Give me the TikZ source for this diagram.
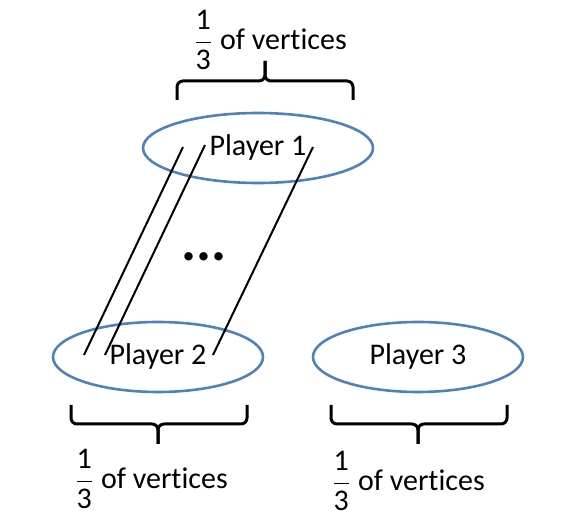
\documentclass[tikz,border=0pt]{standalone}
\usepackage{amsmath}
\usepackage{fontspec}
\setmainfont{Carlito}[Ligatures=NoCommon]
\usetikzlibrary{shapes.geometric}
\definecolor{ovalblue}{RGB}{79,129,189}
\newcommand{\third}{$\dfrac{\text{1}}{\text{3}}$}

\begin{document}
\begin{tikzpicture}[%
    x=0.5pt, y=-0.5pt,
    player/.style={%
        draw=ovalblue,
        line width=1.3pt,
        ellipse,
        minimum width=115pt,
        minimum height=35pt,
        inner sep=0pt,
        font=\fontsize{15}{18}\selectfont,
    },
    bracket/.style={%
        line width=1.5pt,
        rounded corners=3pt,
    },
    share/.style={%
        font=\fontsize{15}{18}\selectfont,
        inner sep=0pt,
    },
    link/.style={line width=1pt},
]
\useasboundingbox (0,0) rectangle (564,528);

% players
\node[player] (p1) at (258,148) {Player 1};
\node[player,minimum width=105pt] (p2) at (158,357) {Player 2};
\node[player,minimum width=105pt] (p3) at (418,357) {Player 3};

% edges between player 1 and player 2
\coordinate (a1) at (183,147);
\coordinate (a2) at (205,145);
\coordinate (a3) at (313,147);
\coordinate (b1) at (84,355);
\coordinate (b2) at (105,355);
\coordinate (b3) at (213,355);
\draw[link] (a1) -- (b1);
\draw[link] (a2) -- (b2);
\draw[link] (a3) -- (b3);
\node[font=\bfseries\fontsize{28}{30}\selectfont,inner sep=0pt] (dots) at (204,257) {...};

% braces
\draw[bracket] (177,100) -- (177,81) -- (265,81) -- (265,61);
\draw[bracket] (265,61) -- (265,81) -- (353,81) -- (353,100);
\draw[bracket] (71,405) -- (71,424) -- (158,424) -- (158,444);
\draw[bracket] (158,444) -- (158,424) -- (247,424) -- (247,405);
\draw[bracket] (331,405) -- (331,424) -- (418,424) -- (418,444);
\draw[bracket] (418,444) -- (418,424) -- (507,424) -- (507,405);

% labels
\node[share] (top) at (270,40) {\third\ of vertices};
\node[share] (left) at (151,479) {\third\ of vertices};
\node[share] (right) at (408,481) {\third\ of vertices};

\end{tikzpicture}
\end{document}
